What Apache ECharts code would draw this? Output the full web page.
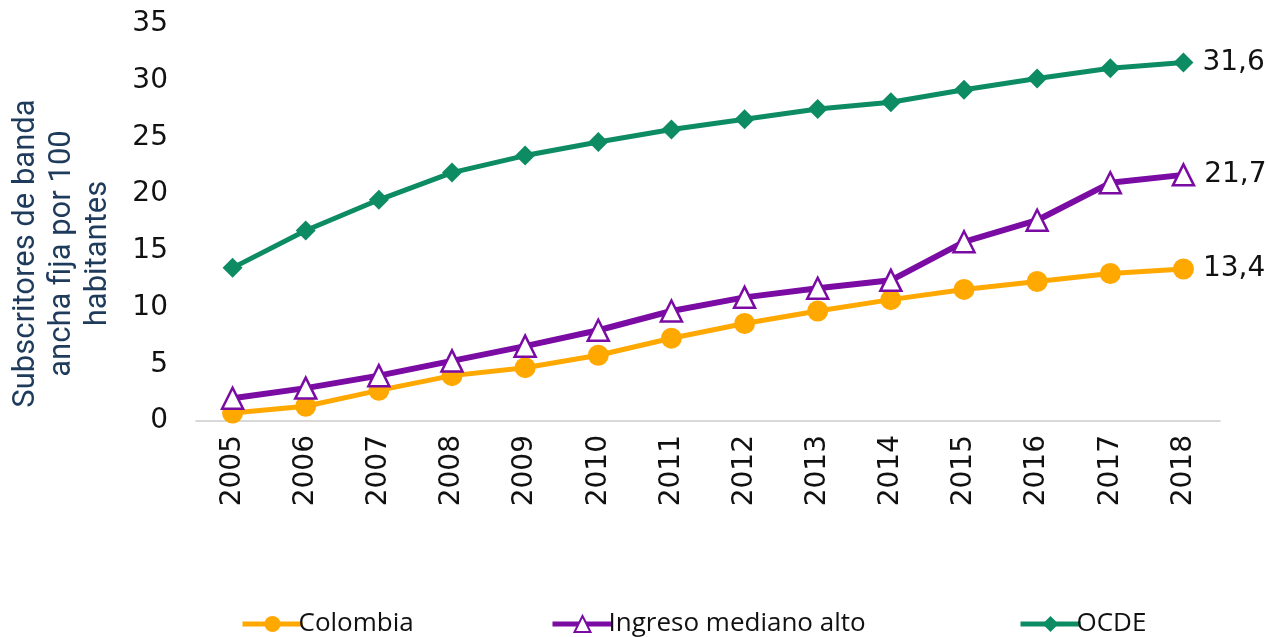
<!DOCTYPE html>
<html><head><meta charset="utf-8">
<script src="https://cdn.jsdelivr.net/npm/echarts@6/dist/echarts.min.js"></script>
<style>html,body{margin:0;padding:0;background:#fff}#c{width:1268px;height:637px}</style>
</head><body><div id="c"></div>
<script>
var years = ['2005','2006','2007','2008','2009','2010','2011','2012','2013','2014','2015','2016','2017','2018'];
var colombia = [0.7,1.3,2.7,4.0,4.7,5.8,7.3,8.6,9.7,10.7,11.6,12.3,13.0,13.4];
var ingreso = [2.0,2.9,4.0,5.3,6.6,8.0,9.7,10.9,11.7,12.4,15.8,17.7,21.0,21.7];
var ocde = [13.5,16.8,19.5,21.9,23.4,24.6,25.7,26.6,27.5,28.1,29.2,30.2,31.1,31.6];
var yTicks = [0,5,10,15,20,25,30,35];

var cOr = '#FFA800', cPu = '#7A0BA3', cGr = '#0D8C64';
var numFont = 'DejaVu Sans';
function endLabel(p){ return p.dataIndex === years.length-1 ? String(p.value).replace('.', ',') : ''; }
var lbl = {show:true, position:'right', distance:9, formatter:endLabel, fontSize:28, color:'#111', fontFamily:numFont};

function leg(name, left, extra){
  return {
    top:606, left:left, itemWidth:60, itemHeight:20, orient:'horizontal',
    lineStyle:{width:5},
    textStyle:{fontSize:26, color:'#111', fontFamily:'Open Sans', padding:[0,0,0,-9]},
    data:[extra ? Object.assign({name:name}, extra) : {name:name}]
  };
}

function draw(){
  var chart = echarts.init(document.getElementById('c'));
  chart.setOption({
    animation:false,
    grid:{left:191, right:48, top:24, bottom:216},
    legend:[
      leg('Colombia', 235),
      leg('Ingreso mediano alto', 545, {itemStyle:{color:'#fff', borderColor:cPu, borderWidth:2}}),
      leg('OCDE', 1013)
    ],
    xAxis:{
      type:'category', data:years, boundaryGap:true,
      axisLine:{lineStyle:{color:'#d9d9d9', width:2}},
      axisTick:{show:false},
      axisLabel:{rotate:90, fontSize:28, color:'#111', fontFamily:numFont, margin:14}
    },
    yAxis:{
      type:'value', min:0, max:35, interval:5,
      name:'Subscritores de banda\nancha fija por 100\nhabitantes',
      nameLocation:'middle', nameGap:80, nameRotate:90,
      nameTextStyle:{fontSize:31, color:'#1F3B5C', fontFamily:'Roboto', lineHeight:36, align:'center', padding:[0,62,0,0]},
      axisLine:{show:false}, axisTick:{show:false}, splitLine:{show:false},
      axisLabel:{fontSize:28, color:'#111', fontFamily:numFont, margin:28,
        formatter:function(v){ return yTicks.indexOf(v)>=0 ? String(v) : ''; }}
    },
    series:[
      {name:'Colombia', type:'line', data:colombia, color:cOr, symbol:'circle', symbolSize:21,
       lineStyle:{width:5, color:cOr}, itemStyle:{color:cOr}, label:lbl, z:3},
      {name:'Ingreso mediano alto', type:'line', data:ingreso, color:cPu, symbol:'triangle', symbolSize:21,
       lineStyle:{width:6, color:cPu}, itemStyle:{color:'#fff', borderColor:cPu, borderWidth:2.5}, label:lbl, z:4},
      {name:'OCDE', type:'line', data:ocde, color:cGr, symbol:'diamond', symbolSize:20,
       lineStyle:{width:5, color:cGr}, itemStyle:{color:cGr}, label:lbl, z:5}
    ]
  });
}
var loads = [];
if (document.fonts && document.fonts.load) {
  loads = ['31px Roboto','26px "Open Sans"','28px "DejaVu Sans"'].map(function(f){ return document.fonts.load(f).catch(function(){}); });
}
Promise.all(loads).then(draw, draw);
</script></body></html>
